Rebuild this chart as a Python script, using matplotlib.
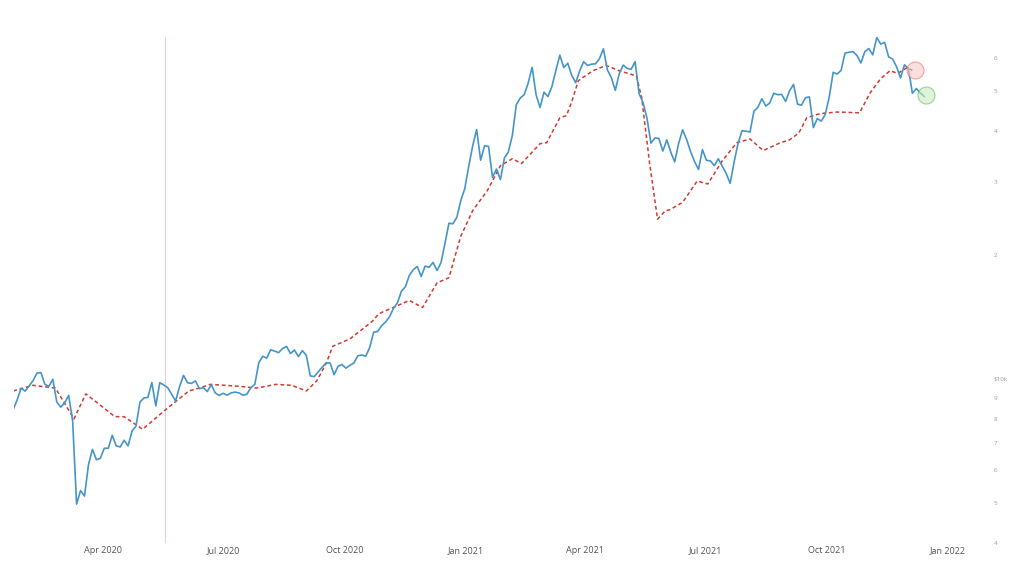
import numpy as np
import pandas as pd
import matplotlib
matplotlib.use("Agg")
import matplotlib.pyplot as plt
import matplotlib.dates as mdates
from matplotlib.ticker import FixedLocator, NullLocator

plt.rcParams['font.family'] = ['Open Sans', 'DejaVu Sans']

# price, every 3 days from 2020-01-24
price = [
    8430, 8900, 9500, 9340, 9610, 9900, 10330, 10360, 9700, 9600, 9980, 8790, 8540,   # Jan-Feb 2020
    8760, 9120, 7920, 4970, 5360, 5200, 6190, 6750, 6370, 6420,                      # Mar
    6790, 6790, 7300, 6880, 6840, 7100, 6880, 7480, 7680, 8790,                      # Apr
    8990, 9020, 9800, 8600, 9790, 9670, 9520, 9180, 8840, 9580,                      # May
    10200, 9790, 9750, 9890, 9470, 9530, 9320, 9680, 9250, 9120,                     # Jun
    9230, 9130, 9250, 9290, 9250, 9130, 9180, 9530, 9700, 10950, 11350,              # Jul
    11230, 11770, 11680, 11580, 11850, 11990, 11530, 11750, 11330, 11710,            # Aug
    11410, 10170, 10130, 10400, 10680, 10940, 10930, 10240, 10730, 10840,            # Sep
    10620, 10790, 10930, 11380, 11430, 11360, 11920, 12990, 13030, 13460,            # Oct
    13740, 14150, 14820, 15290, 16320, 16720, 17820, 18400, 18740, 17720,            # Nov
    18780, 18650, 19170, 18320, 19140, 21310, 23860, 23780, 24670, 27080, 28950,     # Dec
    32780, 36770, 40250, 33920, 36770, 36630, 30830, 32290, 30430, 34320,            # Jan 2021
    35510, 38900, 46200, 48000, 48900, 52150, 57000, 48900, 45500,                   # Feb
    49600, 48400, 51200, 56000, 61000, 56900, 58300, 54500, 52300, 55800, 58800,     # Mar
    57600, 58000, 58100, 59800, 63200, 56200, 53800, 50100, 55000, 57700,            # Apr
    56600, 56400, 58800, 49200, 46800, 42900, 37300, 38400, 38300, 35700,            # May
    38000, 35500, 33600, 37300, 40200, 38100, 35600, 33700, 32200, 36000,            # Jun
    33900, 33800, 32900, 34200, 32800, 31500, 29800, 33600, 37300, 40000,            # Jul
    39900, 39700, 44600, 45600, 47800, 45900, 46700, 49300, 48900, 49000, 47100,     # Aug
    50000, 51800, 46400, 46100, 48100, 48300, 40700, 42800, 42200, 43800,            # Sep
    48200, 55400, 54900, 56000, 61700, 62000, 62200, 60900, 58400, 62200,            # Oct
    63300, 61100, 67300, 64900, 65500, 60400, 59700, 57200, 53700, 57800,            # Nov
    56600, 49300, 50600, 49400, 48400,                                               # Dec
]
price_dates = pd.date_range("2020-01-24", periods=len(price), freq="3D")

# moving average line, read at points
ma_dates = pd.to_datetime([
    "2020-01-24", "2020-02-08", "2020-02-25", "2020-03-10", "2020-03-19", "2020-04-10",
    "2020-04-17", "2020-05-01", "2020-05-18", "2020-06-05", "2020-06-13", "2020-06-21",
    "2020-07-13", "2020-07-26", "2020-08-10", "2020-08-22", "2020-09-02", "2020-09-10",
    "2020-09-17", "2020-09-22", "2020-10-05", "2020-10-22", "2020-10-27", "2020-11-19",
    "2020-11-29", "2020-12-10", "2020-12-19", "2020-12-28", "2021-01-06", "2021-01-17",
    "2021-01-27", "2021-02-05", "2021-02-12", "2021-02-26", "2021-03-03", "2021-03-13",
    "2021-03-18", "2021-03-22", "2021-03-27", "2021-04-07", "2021-04-17", "2021-04-27",
    "2021-05-10", "2021-05-14", "2021-05-20", "2021-05-26", "2021-06-01", "2021-06-04",
    "2021-06-14", "2021-06-25", "2021-07-03", "2021-07-14", "2021-07-25", "2021-08-04",
    "2021-08-14", "2021-08-27", "2021-09-03", "2021-09-10", "2021-09-16", "2021-09-26",
    "2021-10-09", "2021-10-26", "2021-11-03", "2021-11-11", "2021-11-18", "2021-11-24",
    "2021-12-01", "2021-12-05",
])
ma = [
    9350, 9650, 9500, 8000, 9200, 8100,
    8100, 7550, 8400, 9350, 9500, 9700,
    9600, 9500, 9700, 9650, 9350, 9900,
    10900, 12000, 12500, 13800, 14400, 15500,
    14900, 17100, 17600, 22200, 25600, 28600,
    32900, 34200, 33300, 37200, 37400, 43000,
    43500, 47000, 52900, 55900, 57600, 55900,
    54300, 48100, 33300, 24400, 25600, 25700,
    26800, 30200, 29700, 33800, 37400, 38200,
    35800, 37400, 38000, 39500, 43000, 44000,
    44400, 44200, 49400, 53500, 55900, 55100,
    56900, 56000,
]

marker_dates = pd.to_datetime(["2021-12-07", "2021-12-15"])
marker_vals = [56200, 48900]
vline_date = pd.Timestamp("2020-05-18")

ytick_vals = [4000, 5000, 6000, 7000, 8000, 9000, 10000, 20000, 30000, 40000, 50000, 60000]
ytick_labels = ['4', '5', '6', '7', '8', '9', '$10k', '2', '3', '4', '5', '6']

fig = plt.figure(figsize=(10.24, 5.75), dpi=100)
ax = fig.add_axes([14/1024, 1 - 543/575, (985 - 14)/1024, (543 - 37)/575])

ax.axvline(vline_date, color='#f0a8b8', lw=0.6, alpha=0.8, zorder=1)
ax.plot(price_dates, price, color='#4596c8', lw=1.2, zorder=3)
ax.plot(ma_dates, ma, color='#d03a2f', lw=1.1, ls=(0, (2.5, 1.8)), zorder=2)

ax.scatter(marker_dates[:1], marker_vals[:1], s=150, facecolor='#f9c9c9', edgecolor='#e57373',
           alpha=0.6, lw=0.8, zorder=4)
ax.scatter(marker_dates[1:], marker_vals[1:], s=150, facecolor='#c8ebc0', edgecolor='#66bb55',
           alpha=0.6, lw=0.8, zorder=4)

ax.set_yscale('log')
ax.set_ylim(4000, 67500)
x0 = pd.Timestamp("2020-04-01")
ax.set_xlim(x0 - pd.Timedelta(days=67.4), x0 + pd.Timedelta(days=668))

ax.yaxis.tick_right()
ax.yaxis.set_major_locator(FixedLocator(ytick_vals))
ax.yaxis.set_minor_locator(NullLocator())
ax.set_yticklabels(ytick_labels)
ax.tick_params(axis='y', length=0, pad=6, labelsize=4.5, labelcolor='#9a9a9a')

ax.xaxis.set_major_locator(mdates.MonthLocator(bymonth=[1, 4, 7, 10]))
ax.xaxis.set_major_formatter(mdates.DateFormatter('%b %Y'))
ax.tick_params(axis='x', length=0, pad=2, labelsize=6.5, labelcolor='#555555')

for s in ax.spines.values():
    s.set_visible(False)
ax.grid(False)

fig.savefig("out.png", dpi=100)
